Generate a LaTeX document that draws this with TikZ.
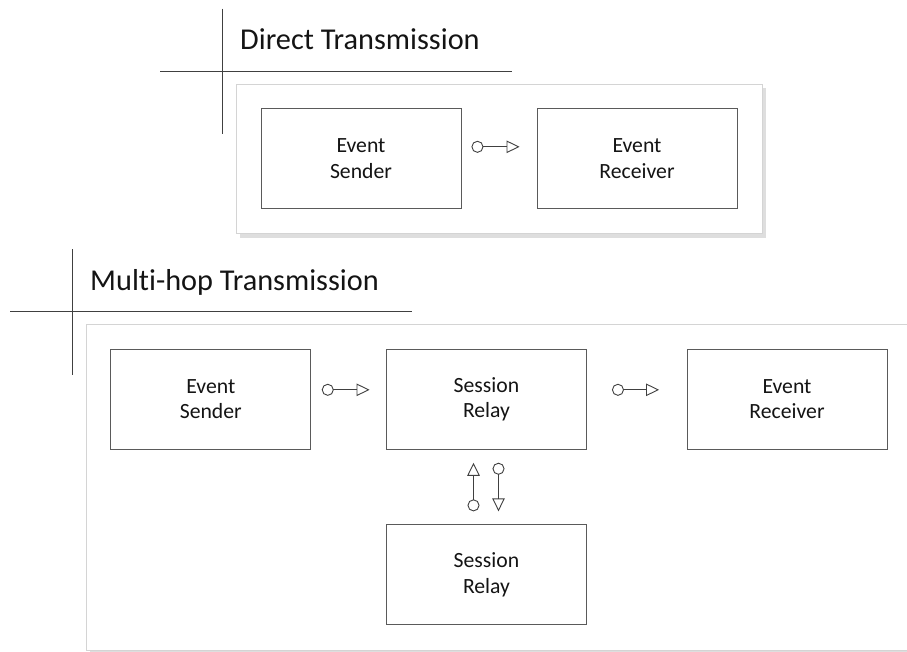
\documentclass[tikz,border=0pt]{standalone}
\usepackage{fontspec}
\setmainfont{Carlito}[Ligatures={NoCommon}]
\usetikzlibrary{arrows.meta}
\definecolor{boxgray}{HTML}{5A5A5A}
\definecolor{linegray}{HTML}{404040}
\definecolor{framegray}{HTML}{D4D4D4}
\definecolor{shadowgray}{HTML}{DEDEDE}
\begin{document}
\begin{tikzpicture}[x=1pt,y=-1pt,
  box/.style={draw=boxgray, line width=0.9pt, minimum width=200pt, minimum height=100pt,
    inner sep=0pt, align=center, fill=white, text=black!92,
    font=\fontsize{21.7}{25.5}\selectfont},
  titletext/.style={anchor=base west, inner sep=0pt, text=black!92,
    font=\fontsize{30.3}{36}\selectfont},
  crossline/.style={draw=linegray, line width=0.9pt},
  frame/.style={draw=framegray, line width=0.9pt, fill=white},
  frameshadow/.style={fill=shadowgray, draw=none},
  conn/.style={draw=linegray, line width=0.9pt,
    {Circle[open,length=12pt,width=12pt]}-{Triangle[open,length=13pt,width=12.5pt]}}]
\useasboundingbox (0,0) rectangle (907,651);
\clip (0,0) rectangle (907,651);

% ---------- Direct Transmission ----------
\draw[crossline] (222.5,8.5) -- (222.5,133.5);
\draw[crossline] (160,71.5) -- (511.5,71.5);
\node[titletext] (t1) at (240,49.3) {Direct Transmission};
\fill[frameshadow] (240,88) rectangle (766,238);
\draw[frame] (236,84) rectangle (762,233.5);
\node[box] (ds) at (361,158.8) {Event\\Sender};
\node[box] (dr) at (637,158.8) {Event\\Receiver};
\draw[conn, shorten <=10pt, shorten >=17pt] ([yshift=12pt]ds.east) -- ([yshift=12pt]dr.west);

% ---------- Multi-hop Transmission ----------
\draw[crossline] (72.5,249) -- (72.5,374.5);
\draw[crossline] (10,311) -- (411.5,311);
\node[titletext] (t2) at (90,290) {Multi-hop Transmission};
\fill[frameshadow] (90,328.5) rectangle (930,654);
\draw[frame] (86,324.5) rectangle (925,650);
\node[box] (ms) at (210.8,399.3) {Event\\Sender};
\node[box] (mr) at (486.5,399.3) {Session\\Relay};
\node[box] (me) at (787,399.3) {Event\\Receiver};
\node[box] (ml) at (486.5,574.8) {Session\\Relay};
\draw[conn, shorten <=10.5pt, shorten >=16.5pt] ([yshift=9.5pt]ms.east) -- ([yshift=9.5pt]mr.west);
\draw[conn, shorten <=25pt, shorten >=27.5pt] ([yshift=9.5pt]mr.east) -- ([yshift=9.5pt]me.west);
\draw[conn, shorten <=13pt, shorten >=13pt] ([xshift=-13pt]ml.north) -- ([xshift=-13pt]mr.south);
\draw[conn, shorten <=13pt, shorten >=13pt] ([xshift=12pt]mr.south) -- ([xshift=12pt]ml.north);
\end{tikzpicture}
\end{document}
